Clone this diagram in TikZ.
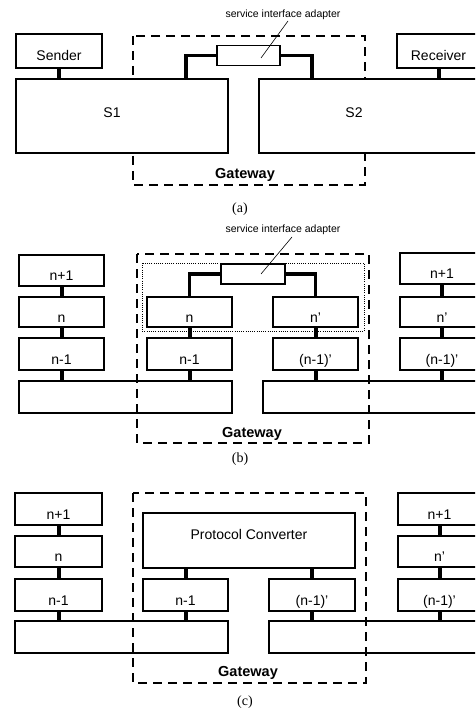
\documentclass[tikz,border=0pt]{standalone}
\usepackage{fontspec}
\setmainfont{Liberation Serif}
\setsansfont{Liberation Sans}
\tikzset{
 box/.style={draw, line width=1.5pt, fill=white, inner sep=0pt, text height=20pt, text depth=0pt, font=\sffamily\fontsize{14}{16}\selectfont},
 conn/.style={line width=4pt},
 adl/.style={line width=3.5pt, line join=miter},
 gw/.style={line width=1.6pt, dash pattern=on 9pt off 6pt},
 dotbox/.style={line width=0.9pt, dash pattern=on 0.9pt off 1.3pt},
 gwtext/.style={font=\sffamily\bfseries\fontsize{14.5}{16}\selectfont, anchor=base, inner sep=0pt},
 bigtext/.style={font=\sffamily\fontsize{14}{16}\selectfont, anchor=base, inner sep=0pt},
 sia/.style={font=\sffamily\fontsize{10.5}{12}\selectfont, anchor=base, inner sep=0pt},
 captxt/.style={font=\rmfamily\fontsize{14}{16}\selectfont, anchor=base, inner sep=0pt},
 lead/.style={line width=0.6pt},
 adapt/.style={line width=1.1pt},
}
\newcommand\gbox[7][]{\node[box,#1,minimum width={(#5-#3)*1pt},minimum height={(#6-#4)*1pt}] (#2) at ({(#3+#5)/2},{(#4+#6)/2}) {#7};}
\begin{document}
\begin{tikzpicture}[x=1pt,y=-1pt]
\path[use as bounding box, clip] (0,0) rectangle (475,711);
\fill[white] (0,0) rectangle (475,711);
% ---------------- (a) ----------------
\draw[gw] (133,36) rectangle (365,185);
\gbox{snd}{16}{34}{102}{68}{Sender}
\gbox{s1}{16}{79}{228}{153}{}
\gbox{rcv}{397}{34}{480}{68}{Receiver}
\gbox{s2}{259}{79}{495}{153}{}
\node[bigtext] (s1t) at (112,118) {S1};
\node[bigtext] (s2t) at (354,118) {S2};
\gbox[adapt]{ada}{217}{50}{280}{61}{}
\draw[conn] (snd.south) -- (snd.south |- s1.north);
\draw[conn] (rcv.south) -- (rcv.south |- s2.north);
\coordinate (a1) at (186,0);
\coordinate (a2) at (312,0);
\draw[adl] (a1 |- s1.north) |- (ada.west);
\draw[adl] (ada.east) -| (a2 |- s2.north);
\node[sia] (siaa) at (283,18) {service interface adapter};
\coordinate (lta) at (288,21);
\coordinate (lba) at (261,58);
\draw[lead] (lta) -- (lba);
\node[gwtext] (gwa) at (245,179) {Gateway};
\node[captxt] (capa) at (240,212) {(a)};
% ---------------- (b) ----------------
\gbox{bl1}{19}{255}{104}{286}{n+1}
\gbox{bl2}{19}{297}{104}{327}{n}
\gbox{bl3}{19}{338}{104}{370}{n-1}
\gbox{blbar}{19}{381}{232}{413}{}
\gbox{bm2}{147}{297}{232}{327}{n}
\gbox{bm3}{147}{338}{232}{370}{n-1}
\gbox{bn2}{273}{297}{358}{327}{n'}
\gbox{bn3}{273}{338}{358}{370}{(n-1)'}
\gbox{brbar}{263}{381}{495}{413}{}
\gbox{br1}{400}{253}{484}{284}{n+1}
\gbox{br2}{400}{297}{484}{327}{n'}
\gbox{br3}{400}{338}{484}{370}{(n-1)'}
\draw[gw] (137,254) rectangle (369,443);
\draw[dotbox] (142,263) rectangle (364,331);
\gbox[adapt]{adb}{221}{269}{285}{279}{}
\draw[conn] (bl1.south) -- (bl2.north);
\draw[conn] (bl2.south) -- (bl3.north);
\draw[conn] (bl3.south) -- (bl3.south |- blbar.north);
\draw[conn] (bm2.south) -- (bm3.north);
\draw[conn] (bm3.south) -- (bm3.south |- blbar.north);
\draw[conn] (bn2.south) -- (bn3.north);
\draw[conn] (bn3.south) -- (bn3.south |- brbar.north);
\draw[conn] (br1.south) -- (br2.north);
\draw[conn] (br2.south) -- (br3.north);
\draw[conn] (br3.south) -- (br3.south |- brbar.north);
\draw[adl] (bm2.north) |- (adb.west);
\draw[adl] (adb.east) -| (bn2.north);
\node[sia] (siab) at (283,233) {service interface adapter};
\coordinate (ltb) at (292,237);
\coordinate (lbb) at (261,274);
\draw[lead] (ltb) -- (lbb);
\node[gwtext] (gwb) at (252,437) {Gateway};
\node[captxt] (capb) at (240,462) {(b)};
% ---------------- (c) ----------------
\gbox{cl1}{15}{493}{102}{525}{n+1}
\gbox{cl2}{15}{536}{102}{567}{n}
\gbox{cl3}{15}{579}{102}{611}{n-1}
\gbox{clbar}{15}{621}{228}{653}{}
\gbox[text height=0pt, text depth=3pt]{pc}{143}{513}{355}{568}{Protocol Converter}
\gbox{cm3}{143}{579}{228}{611}{n-1}
\gbox{cn3}{269}{579}{355}{611}{(n-1)'}
\gbox{crbar}{269}{621}{495}{653}{}
\gbox{cr1}{398}{493}{481}{525}{n+1}
\gbox{cr2}{398}{536}{481}{567}{n'}
\gbox{cr3}{398}{579}{481}{611}{(n-1)'}
\draw[gw] (133,493) rectangle (366,683);
\draw[conn] (cl1.south) -- (cl2.north);
\draw[conn] (cl2.south) -- (cl3.north);
\draw[conn] (cl3.south) -- (cl3.south |- clbar.north);
\draw[conn] (cm3.north |- pc.south) -- (cm3.north);
\draw[conn] (cm3.south) -- (cm3.south |- clbar.north);
\draw[conn] (cn3.north |- pc.south) -- (cn3.north);
\draw[conn] (cn3.south) -- (cn3.south |- crbar.north);
\draw[conn] (cr1.south) -- (cr2.north);
\draw[conn] (cr2.south) -- (cr3.north);
\draw[conn] (cr3.south) -- (cr3.south |- crbar.north);
\node[gwtext] (gwc) at (248,676) {Gateway};
\node[captxt] (capc) at (245,705) {(c)};
\end{tikzpicture}
\end{document}
